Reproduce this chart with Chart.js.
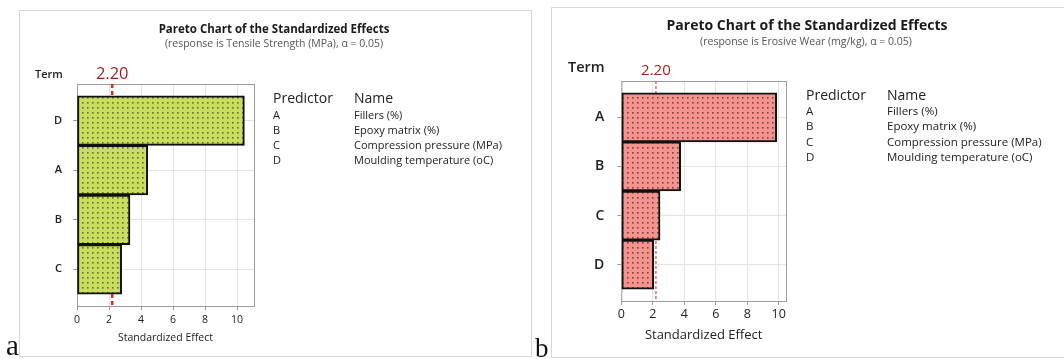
<!DOCTYPE html>
<html lang="en">
<head>
<meta charset="UTF-8">
<title>Pareto Charts of the Standardized Effects</title>
<script src="https://cdn.jsdelivr.net/npm/chart.js"></script>
<style>
    body { margin: 0; background: #fff; font-family: "Open Sans", sans-serif; }
    #page { position: relative; width: 1064px; height: 359px; overflow: hidden; background: #fff; }
    .frame { position: absolute; border: 1px solid #d6d6d6; }
    .box { position: absolute; top: 0; height: 359px; }
    .t { position: absolute; white-space: nowrap; color: #222; line-height: 1; }
    .c { transform: translate(-50%, -50%); }
    .l { transform: translateY(-50%); }
    .letter { position: absolute; font-family: "Liberation Serif", "DejaVu Serif", serif; color: #111; line-height: 1; }
</style>
</head>
<body>
<div id="page">
    <div class="frame" style="left:19px; top:10px; width:511px; height:345px;"></div>
    <div class="frame" style="left:551px; top:7px; width:600px; height:349px;"></div>

    <div class="box" style="left:0; width:530px;"><canvas id="chartA" width="530" height="359"></canvas></div>
    <div class="box" style="left:530px; width:534px;"><canvas id="chartB" width="534" height="359"></canvas></div>

    <!-- panel a texts -->
    <div class="t c" style="left:274px; top:29px; font-size:11.5px; font-weight:700; color:#1a1a1a;">Pareto Chart of the Standardized Effects</div>
    <div class="t c" style="left:274px; top:43px; font-size:10.5px; color:#555;">(response is Tensile Strength (MPa), α = 0.05)</div>
    <div class="t l" style="left:35px; top:73px; font-size:11px; font-weight:600;">Term</div>
    <div id="tableA"></div>
    <div class="letter" style="left:6px; top:331px; font-size:29px;">a</div>

    <!-- panel b texts -->
    <div class="t c" style="left:807px; top:25px; font-size:14px; font-weight:700; color:#1a1a1a;">Pareto Chart of the Standardized Effects</div>
    <div class="t c" style="left:806px; top:41px; font-size:10.5px; color:#555;">(response is Erosive Wear (mg/kg), α = 0.05)</div>
    <div class="t l" style="left:568px; top:67px; font-size:14.5px; font-weight:600;">Term</div>
    <div id="tableB"></div>
    <div class="letter" style="left:535px; top:335px; font-size:27px;">b</div>
</div>

<script>
    // ---- data ----
    var termsA = ['D', 'A', 'B', 'C'];
    var effectsA = [10.46, 4.42, 3.31, 2.79];
    var termsB = ['A', 'B', 'C', 'D'];
    var effectsB = [9.87, 3.77, 2.46, 2.06];
    var criticalEffect = 2.20;
    var criticalLabel = '2.20';
    var predictors = ['A', 'B', 'C', 'D'];
    var predictorNames = ['Fillers (%)', 'Epoxy matrix (%)', 'Compression pressure (MPa)', 'Moulding temperature (oC)'];

    var FONT = '"Open Sans", sans-serif';

    // dotted fill like the Minitab bars
    function dotPattern(base, dot) {
        var c = document.createElement('canvas');
        c.width = 5; c.height = 5;
        var g = c.getContext('2d');
        g.fillStyle = base;
        g.fillRect(0, 0, 5, 5);
        g.fillStyle = dot;
        g.fillRect(2, 2, 1.6, 1.6);
        return g.createPattern(c, 'repeat');
    }

    // plot frame, red reference line and its label
    var paretoExtras = {
        id: 'paretoExtras',
        beforeDatasetsDraw: function (chart, args, o) {
            var a = chart.chartArea, ctx = chart.ctx;
            var px = chart.scales.x.getPixelForValue(criticalEffect);
            ctx.save();
            ctx.strokeStyle = '#9c9c9c';
            ctx.lineWidth = 1;
            ctx.strokeRect(a.left + 0.5, a.top + 0.5, a.right - a.left, a.bottom - a.top);
            ctx.strokeStyle = o.lineColor;
            ctx.lineWidth = o.lineWidth;
            ctx.setLineDash(o.dash);
            ctx.beginPath();
            ctx.moveTo(px, a.top);
            ctx.lineTo(px, a.bottom);
            ctx.stroke();
            ctx.setLineDash([]);
            ctx.fillStyle = '#9e1f1f';
            ctx.font = o.labelSize + 'px ' + FONT;
            ctx.textAlign = 'center';
            ctx.textBaseline = 'middle';
            ctx.fillText(criticalLabel, px, a.top - 10);
            ctx.restore();
        }
    };

    function paretoChart(id, terms, effects, s) {
        return new Chart(document.getElementById(id), {
            type: 'bar',
            data: {
                datasets: [{
                    data: effects.map(function (v, i) { return { x: v, y: i }; }),
                    backgroundColor: dotPattern(s.fill, s.dot),
                    borderColor: '#111',
                    borderWidth: 2,
                    borderSkipped: false,
                    barPercentage: 1,
                    categoryPercentage: 1
                }]
            },
            options: {
                indexAxis: 'y',
                responsive: false,
                animation: false,
                layout: { padding: s.pad },
                plugins: {
                    legend: { display: false },
                    tooltip: { enabled: false },
                    paretoExtras: { lineColor: s.lineColor, lineWidth: s.lineWidth, dash: s.dash, labelSize: s.labelSize }
                },
                scales: {
                    x: {
                        type: 'linear',
                        min: 0,
                        max: s.xMax,
                        afterFit: function (sc) { sc.height = s.xH; },
                        ticks: { stepSize: 2, includeBounds: false, maxRotation: 0, padding: s.xTickPad, color: '#222', font: { family: FONT, size: s.xTickSize } },
                        grid: { color: '#e4e4e4', tickColor: '#9c9c9c', tickLength: 4 },
                        border: { display: false },
                        title: { display: true, text: 'Standardized Effect', color: '#222', padding: 0, font: { family: FONT, size: s.xTitleSize } }
                    },
                    y: {
                        type: 'linear',
                        reverse: true,
                        offset: false,
                        min: -0.74,
                        max: terms.length - 0.26,
                        afterFit: function (sc) { sc.width = s.yW; },
                        ticks: {
                            stepSize: 1, includeBounds: false, autoSkip: false, padding: s.yTickPad,
                            color: '#222', font: { family: FONT, size: s.yTickSize, weight: '600' },
                            callback: function (v) { return Number.isInteger(v) ? terms[v] : ''; }
                        },
                        grid: { offset: false, color: '#e4e4e4', tickColor: '#9c9c9c', tickLength: 4 },
                        border: { display: false }
                    }
                }
            },
            plugins: [paretoExtras]
        });
    }

    function predictorTable(id, x1, x2, yHead, y0, dy, rowSize) {
        var html = '<div class="t l" style="left:' + x1 + 'px; top:' + yHead + 'px; font-size:14px;">Predictor</div>' +
                   '<div class="t l" style="left:' + x2 + 'px; top:' + yHead + 'px; font-size:14px;">Name</div>';
        predictors.forEach(function (p, i) {
            var y = y0 + i * dy;
            html += '<div class="t l" style="left:' + x1 + 'px; top:' + y + 'px; font-size:' + rowSize + 'px;">' + p + '</div>';
            html += '<div class="t l" style="left:' + x2 + 'px; top:' + y + 'px; font-size:' + rowSize + 'px;">' + predictorNames[i] + '</div>';
        });
        document.getElementById(id).innerHTML = html;
    }

    paretoChart('chartA', termsA, effectsA, {
        fill: '#c9dd5e', dot: 'rgba(40,40,10,0.6)',
        pad: { left: 37, right: 276, top: 84, bottom: 14.7 },
        xMax: 11.06, xH: 38.3, yW: 40,
        xTickSize: 10.5, xTickPad: 3.5, xTitleSize: 10.5,
        yTickSize: 11, yTickPad: 11,
        lineColor: '#e8261c', lineWidth: 2.5, dash: [4, 3], labelSize: 16.5
    });

    paretoChart('chartB', termsB, effectsB, {
        fill: '#f5948f', dot: 'rgba(50,10,10,0.6)',
        pad: { left: 46.3, right: 278, top: 81, bottom: 16.2 },
        xMax: 10.46, xH: 41.8, yW: 45,
        xTickSize: 12.5, xTickPad: 2, xTitleSize: 13,
        yTickSize: 14, yTickPad: 13,
        lineColor: '#e84040', lineWidth: 1.2, dash: [3, 2], labelSize: 15
    });

    predictorTable('tableA', 273, 354, 98, 114, 15, 11);
    predictorTable('tableB', 806, 887, 95, 111, 15.3, 11.5);
</script>
</body>
</html>
